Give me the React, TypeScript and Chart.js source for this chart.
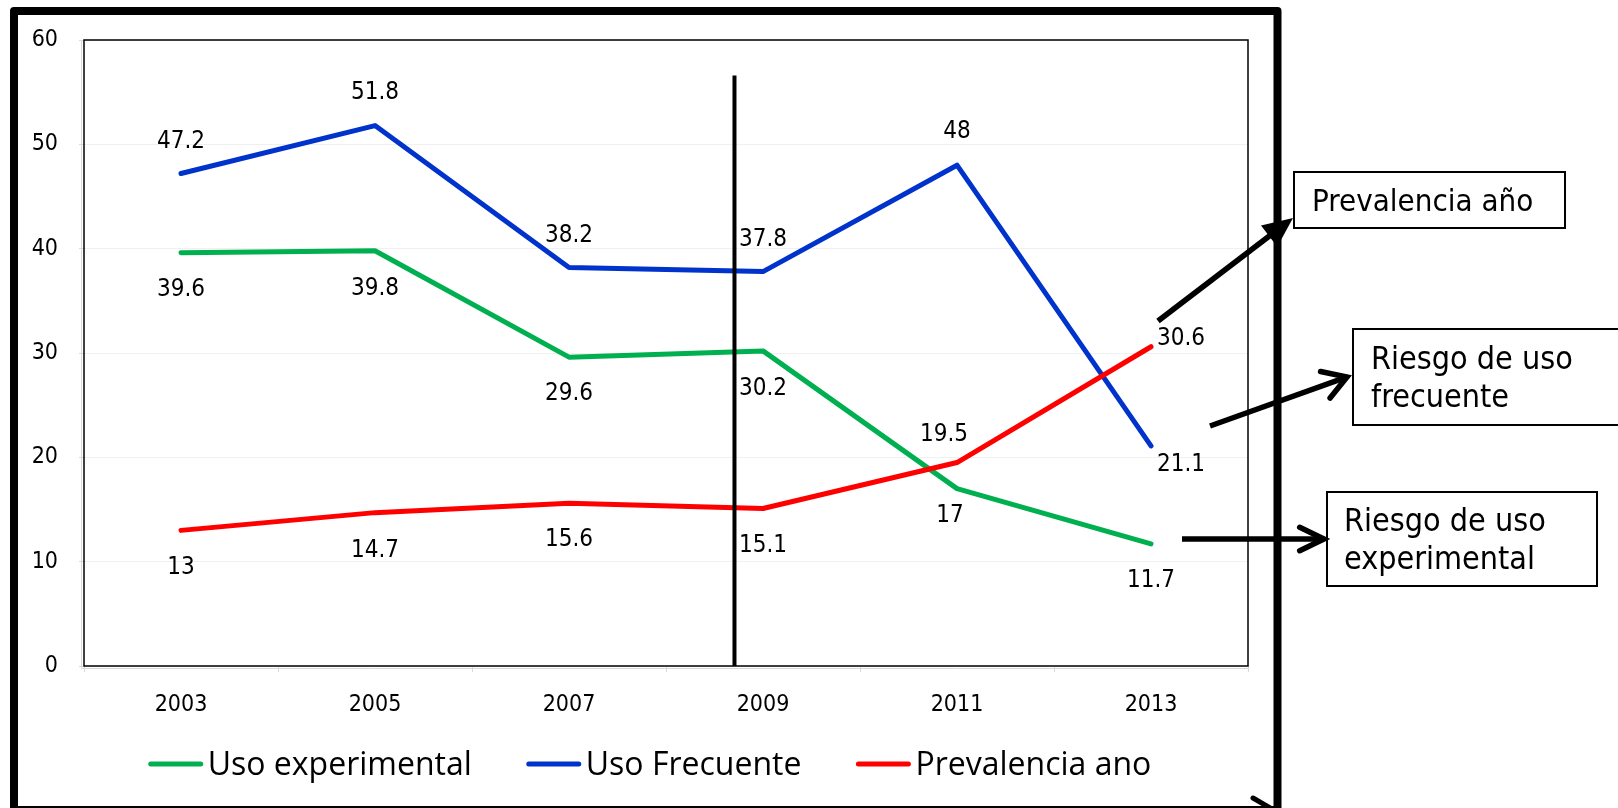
import React, { useEffect, useRef } from "react";
import { Chart, registerables } from "chart.js";

Chart.register(...registerables);

// ---------- data ----------
const years = ["2003", "2005", "2007", "2009", "2011", "2013"];
const usoExperimental = [39.6, 39.8, 29.6, 30.2, 17, 11.7];
const usoFrecuente = [47.2, 51.8, 38.2, 37.8, 48, 21.1];
const prevalenciaAno = [13, 14.7, 15.6, 15.1, 19.5, 30.6];
const yTickValues = [0, 10, 20, 30, 40, 50, 60];
const seriesNames = ["Uso experimental", "Uso Frecuente", "Prevalencia ano"];
const markerIndex = 2.853; // vertical marker position on the category axis
const markerTop = 56.6; // vertical marker top value on the y axis

// ---------- styles ----------
const COND = "'DejaVu Sans Condensed', 'DejaVu Sans', sans-serif";
const seriesColors = ["#00B050", "#0033CC", "#FF0000"];
// label offsets (dx, dy) relative to each point
const labelOffsets = [
  [[0, 37], [0, 38], [0, 37], [0, 38], [-7, 27], [0, 37]],
  [[0, -32], [0, -33], [0, -32], [0, -32], [0, -33], [30, 19]],
  [[0, 37], [0, 38], [0, 37], [0, 37], [-13, -28], [30, -8]],
];

const plotBorderPlugin = {
  id: "plotBorder",
  afterDatasetsDraw(chart: any) {
    const { ctx, chartArea: a } = chart;
    ctx.save();
    ctx.strokeStyle = "#d9d9d9";
    ctx.lineWidth = 1;
    ctx.beginPath();
    ctx.moveTo(a.left - 2.5, a.top);
    ctx.lineTo(a.left - 2.5, a.bottom + 2.5);
    ctx.lineTo(a.right, a.bottom + 2.5);
    ctx.stroke();
    ctx.strokeStyle = "#000";
    ctx.lineWidth = 1.5;
    ctx.strokeRect(a.left, a.top, a.right - a.left, a.bottom - a.top);
    // vertical marker
    const xs = chart.scales.x;
    const ys = chart.scales.y;
    const mx = xs.getPixelForValue(markerIndex);
    ctx.lineWidth = 4;
    ctx.beginPath();
    ctx.moveTo(mx, ys.getPixelForValue(markerTop));
    ctx.lineTo(mx, a.bottom);
    ctx.stroke();
    ctx.restore();
  },
};

const dataLabelPlugin = {
  id: "dataLabels",
  afterDatasetsDraw(chart: any) {
    const ctx = chart.ctx;
    ctx.save();
    ctx.font = `24px ${COND}`;
    ctx.fillStyle = "#000";
    ctx.textAlign = "center";
    ctx.textBaseline = "middle";
    chart.data.datasets.forEach((ds: any, di: number) => {
      const meta = chart.getDatasetMeta(di);
      meta.data.forEach((pt: any, i: number) => {
        const [dx, dy] = labelOffsets[di][i];
        ctx.fillText(String(ds.data[i]), pt.x + dx, pt.y + dy);
      });
    });
    ctx.restore();
  },
};

function drawArrow(ctx: CanvasRenderingContext2D, x1: number, y1: number, x2: number, y2: number, filled: boolean, arm: number, spread: number) {
  const ang = Math.atan2(y2 - y1, x2 - x1);
  ctx.lineWidth = 5.5;
  ctx.lineCap = "butt";
  ctx.beginPath();
  ctx.moveTo(x1, y1);
  if (filled) {
    ctx.lineTo(x2 - Math.cos(ang) * (arm - 4), y2 - Math.sin(ang) * (arm - 4));
  } else {
    ctx.lineTo(x2 - Math.cos(ang) * 2, y2 - Math.sin(ang) * 2);
  }
  ctx.stroke();
  const a1 = ang + Math.PI - spread;
  const a2 = ang + Math.PI + spread;
  if (filled) {
    const hl = arm / Math.cos(spread);
    ctx.beginPath();
    ctx.moveTo(x2, y2);
    ctx.lineTo(x2 + Math.cos(a1) * hl, y2 + Math.sin(a1) * hl);
    ctx.lineTo(x2 + Math.cos(a2) * hl, y2 + Math.sin(a2) * hl);
    ctx.closePath();
    ctx.fill();
  } else {
    ctx.lineCap = "round";
    ctx.lineJoin = "miter";
    ctx.beginPath();
    ctx.moveTo(x2 + Math.cos(a1) * arm, y2 + Math.sin(a1) * arm);
    ctx.lineTo(x2, y2);
    ctx.lineTo(x2 + Math.cos(a2) * arm, y2 + Math.sin(a2) * arm);
    ctx.stroke();
  }
}

const decorPlugin = {
  id: "decor",
  afterDraw(chart: any) {
    const ctx: CanvasRenderingContext2D = chart.ctx;
    ctx.save();
    // outer frame
    ctx.strokeStyle = "#000";
    ctx.fillStyle = "#000";
    ctx.lineWidth = 8;
    ctx.lineJoin = "round";
    ctx.strokeRect(14, 11, 1263.5, 799);
    // arrows
    drawArrow(ctx, 1158, 321, 1293, 218, true, 30, 0.42);
    drawArrow(ctx, 1210, 426, 1347, 377, false, 27, 0.55);
    drawArrow(ctx, 1182, 539, 1324, 539, false, 27, 0.45);
    ctx.lineWidth = 5;
    ctx.lineCap = "round";
    ctx.beginPath();
    ctx.moveTo(1253, 798);
    ctx.lineTo(1284, 816);
    ctx.stroke();

    // legend
    ctx.font = "32px 'Open Sans', sans-serif";
    ctx.textBaseline = "alphabetic";
    ctx.textAlign = "left";
    const lineLen = 50;
    const itemGap = 54;
    const widths = seriesNames.map((n) => ctx.measureText(n).width);
    const total = widths.reduce((s, w) => s + w + 60, 0) + itemGap * (seriesNames.length - 1);
    let x = 649.5 - total / 2;
    const ly = 764;
    seriesNames.forEach((name, i) => {
      ctx.strokeStyle = seriesColors[i];
      ctx.lineWidth = 5;
      ctx.lineCap = "round";
      ctx.beginPath();
      ctx.moveTo(x + 3, ly);
      ctx.lineTo(x + 3 + lineLen, ly);
      ctx.stroke();
      ctx.fillStyle = "#000";
      ctx.fillText(name, x + 60, 775);
      x += 60 + widths[i] + itemGap;
    });
    ctx.restore();
  },
};

const boxBase: React.CSSProperties = {
  position: "absolute",
  boxSizing: "border-box",
  border: "2px solid #000",
  fontFamily: COND,
  fontStretch: "condensed",
  color: "#000",
  whiteSpace: "nowrap",
};

export default function App() {
  const canvasRef = useRef<HTMLCanvasElement | null>(null);

  useEffect(() => {
    if (!canvasRef.current) return;
    const seriesData = [usoExperimental, usoFrecuente, prevalenciaAno];
    const chart = new Chart(canvasRef.current, {
      type: "line",
      data: {
        labels: years,
        datasets: seriesData.map((d, i) => ({
          label: seriesNames[i],
          data: d,
          borderColor: seriesColors[i],
          backgroundColor: seriesColors[i],
          borderWidth: 5,
          borderCapStyle: "round" as const,
          borderJoinStyle: "round" as const,
          pointRadius: 0,
          pointHoverRadius: 0,
          tension: 0,
          fill: false,
          order: 3 - i,
        })),
      },
      options: {
        responsive: false,
        animation: false,
        events: [],
        layout: { padding: { left: 0, top: 40, right: 370, bottom: 90 } },
        plugins: {
          legend: { display: false },
          tooltip: { enabled: false },
          title: { display: false },
        },
        scales: {
          x: {
            type: "category",
            offset: true,
            afterFit(scale: any) {
              scale.height = 52;
            },
            grid: {
              offset: true,
              drawOnChartArea: false,
              drawTicks: true,
              tickLength: 6,
              tickColor: "#d9d9d9",
              color: "#d9d9d9",
            },
            border: { display: false },
            ticks: {
              color: "#000",
              font: { family: COND, size: 23 },
              padding: 19,
              maxRotation: 0,
              autoSkip: false,
            },
          },
          y: {
            min: 0,
            max: 60,
            afterFit(scale: any) {
              scale.width = 84;
            },
            afterBuildTicks(scale: any) {
              scale.ticks = yTickValues.map((v) => ({ value: v }));
            },
            grid: {
              color: "#f0f0f0",
              lineWidth: 1,
              drawTicks: true,
              tickLength: 5,
              tickColor: "#d9d9d9",
            },
            border: { display: false },
            ticks: {
              color: "#000",
              font: { family: COND, size: 23 },
              padding: 21,
            },
          },
        },
      },
      plugins: [plotBorderPlugin, dataLabelPlugin, decorPlugin],
    });
    return () => chart.destroy();
  }, []);

  return (
    <div
      style={{
        position: "absolute",
        left: 0,
        top: 0,
        width: 1618,
        height: 808,
        overflow: "hidden",
        background: "#fff",
      }}
    >
      <canvas
        ref={canvasRef}
        width={1618}
        height={808}
        style={{ position: "absolute", left: 0, top: 0, display: "block" }}
      />
      <div
        style={{
          ...boxBase,
          left: 1293,
          top: 171,
          width: 273,
          height: 58,
          fontSize: 31,
          lineHeight: "36px",
          paddingLeft: 17,
          paddingTop: 9,
        }}
      >
        Prevalencia año
      </div>
      <div
        style={{
          ...boxBase,
          left: 1352,
          top: 328,
          width: 300,
          height: 98,
          fontSize: 32,
          lineHeight: "38px",
          paddingLeft: 17,
          paddingTop: 9,
        }}
      >
        Riesgo de uso
        <br />
        frecuente
      </div>
      <div
        style={{
          ...boxBase,
          left: 1326,
          top: 491,
          width: 272,
          height: 96,
          fontSize: 32,
          lineHeight: "38px",
          paddingLeft: 16,
          paddingTop: 8,
        }}
      >
        Riesgo de uso
        <br />
        experimental
      </div>
    </div>
  );
}
